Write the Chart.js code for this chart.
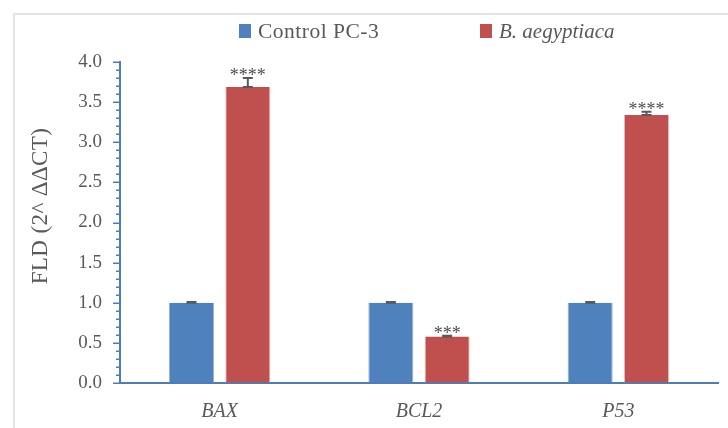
<!DOCTYPE html>
<html>
<head>
<meta charset="utf-8">
<script src="https://cdn.jsdelivr.net/npm/chart.js@4"></script>
<style>
  html, body { margin: 0; padding: 0; background: #fff; }
  #wrap { position: relative; width: 728px; height: 428px; overflow: hidden; }
  #frame { position: absolute; left: 13px; top: 13px; width: 760px; height: 460px;
           border-left: 2px solid #e3e3e3; border-top: 2px solid #e3e3e3; }
  canvas { position: absolute; left: 0; top: 0; }
</style>
</head>
<body>
<div id="wrap">
  <div id="frame"></div>
  <canvas id="c" width="728" height="428"></canvas>
</div>
<script>
// Gene expression (fold change, 2^-ΔΔCT)
const genes = ['BAX', 'BCL2', 'P53'];
const controlValues = [1.0, 1.0, 1.0];
const treatedValues = [3.69, 0.58, 3.34];
const controlErrors = [0.01, 0.01, 0.01];
const treatedErrors = [0.11, 0.01, 0.04];
const treatedSignif = ['****', '***', '****'];
const seriesNames = ['Control PC-3', 'B. aegyptiaca'];
const yTickLabels = ['0.0', '0.5', '1.0', '1.5', '2.0', '2.5', '3.0', '3.5', '4.0'];
const yTitle = 'FLD (2^ ΔΔCT)';

const BLUE = '#4F81BD';
const RED = '#C0504D';
const TEXT = '#595959';
const AXIS = '#4A7EBB';
const SERIF = '"Liberation Serif", "DejaVu Serif", serif';

// legend row (second entry italic) and rotated y-axis title
const labelsPlugin = {
  id: 'labels',
  afterDraw(chart) {
    const ctx = chart.ctx;
    ctx.save();
    const y = 31;
    const items = [
      { x: 239, color: BLUE, text: seriesNames[0], style: 'normal', size: 21.5, spacing: '0.5px' },
      { x: 480, color: RED, text: seriesNames[1], style: 'italic', size: 21, spacing: '0px' }
    ];
    items.forEach(it => {
      ctx.fillStyle = it.color;
      ctx.fillRect(it.x, y - 7, 12, 14);
      ctx.font = it.style + ' ' + it.size + 'px ' + SERIF;
      ctx.letterSpacing = it.spacing;
      ctx.fillStyle = TEXT;
      ctx.textBaseline = 'middle';
      ctx.textAlign = 'left';
      ctx.fillText(it.text, it.x + 19, y + 1);
    });
    ctx.restore();

    ctx.save();
    ctx.translate(41, 206);
    ctx.rotate(-Math.PI / 2);
    ctx.font = '23px ' + SERIF;
    ctx.letterSpacing = '0.4px';
    ctx.fillStyle = TEXT;
    ctx.textAlign = 'center';
    ctx.textBaseline = 'middle';
    ctx.fillText(yTitle, 0, 0);
    ctx.restore();
  }
};

// y-axis tick marks: long at 0.5 steps, short at 0.1 steps
const tickMarks = {
  id: 'tickMarks',
  afterDraw(chart) {
    const ys = chart.scales.y;
    const ctx = chart.ctx;
    ctx.save();
    ctx.strokeStyle = AXIS;
    ctx.lineWidth = 1.5;
    ys.ticks.forEach(t => {
      const p = Math.round(ys.getPixelForValue(t.value)) + 0.25;
      const major = Math.abs(t.value * 2 - Math.round(t.value * 2)) < 1e-6;
      const len = major ? 7 : 4;
      ctx.beginPath();
      ctx.moveTo(ys.right - len, p);
      ctx.lineTo(ys.right, p);
      ctx.stroke();
    });
    ctx.restore();
  }
};

// upward error bars and significance marks
const errorBars = {
  id: 'errorBars',
  afterDatasetsDraw(chart) {
    const ctx = chart.ctx;
    const ys = chart.scales.y;
    const errs = [controlErrors, treatedErrors];
    ctx.save();
    chart.data.datasets.forEach((ds, di) => {
      const meta = chart.getDatasetMeta(di);
      meta.data.forEach((bar, i) => {
        const v = ds.data[i];
        const e = errs[di][i];
        const yTop = ys.getPixelForValue(v + e);
        const yBot = ys.getPixelForValue(v);
        ctx.strokeStyle = '#595959';
        ctx.lineWidth = 2;
        ctx.beginPath();
        ctx.moveTo(bar.x, yTop); ctx.lineTo(bar.x, yBot);
        ctx.moveTo(bar.x - 5, yTop); ctx.lineTo(bar.x + 5, yTop);
        ctx.moveTo(bar.x - 5, yBot); ctx.lineTo(bar.x + 5, yBot);
        ctx.stroke();
        if (di === 1) {
          ctx.fillStyle = '#4d4d4d';
          ctx.font = '18px ' + SERIF;
          ctx.textAlign = 'center';
          ctx.textBaseline = 'alphabetic';
          ctx.fillText(treatedSignif[i], bar.x, yTop + 3);
        }
      });
    });
    ctx.restore();
  }
};

new Chart(document.getElementById('c'), {
  type: 'bar',
  data: {
    labels: genes,
    datasets: [
      { label: seriesNames[0], data: controlValues, backgroundColor: BLUE,
        borderColor: '#95B3D7', borderWidth: { left: 1, right: 1, top: 0, bottom: 0 } },
      { label: seriesNames[1], data: treatedValues, backgroundColor: RED,
        borderColor: '#E6B9B8', borderWidth: { left: 1, right: 1, top: 0, bottom: 0 } }
    ]
  },
  options: {
    responsive: false,
    animation: false,
    devicePixelRatio: 1,
    categoryPercentage: 0.565,
    barPercentage: 0.8,
    layout: { padding: { left: 0, right: 10, top: 62, bottom: 0 } },
    plugins: {
      legend: { display: false },
      tooltip: { enabled: false }
    },
    scales: {
      x: {
        grid: { display: false, drawTicks: false },
        border: { color: AXIS, width: 2 },
        ticks: {
          color: TEXT,
          padding: 17,
          font: { family: SERIF, size: 20, style: 'italic' }
        },
        afterFit(s) { s.height = 45; }
      },
      y: {
        min: 0, max: 4,
        grid: { display: true, drawOnChartArea: false, drawTicks: true,
                tickLength: 7, tickColor: 'rgba(0,0,0,0)' },
        border: { color: AXIS, width: 2 },
        ticks: {
          stepSize: 0.1,
          autoSkip: false,
          color: TEXT,
          padding: 11,
          font: { family: SERIF, size: 19 },
          callback(value) {
            const k = Math.round(value * 10);
            return k % 5 === 0 ? yTickLabels[k / 5] : '';
          }
        },
        afterFit(s) { s.width = 120; }
      }
    }
  },
  plugins: [labelsPlugin, tickMarks, errorBars]
});
</script>
</body>
</html>
